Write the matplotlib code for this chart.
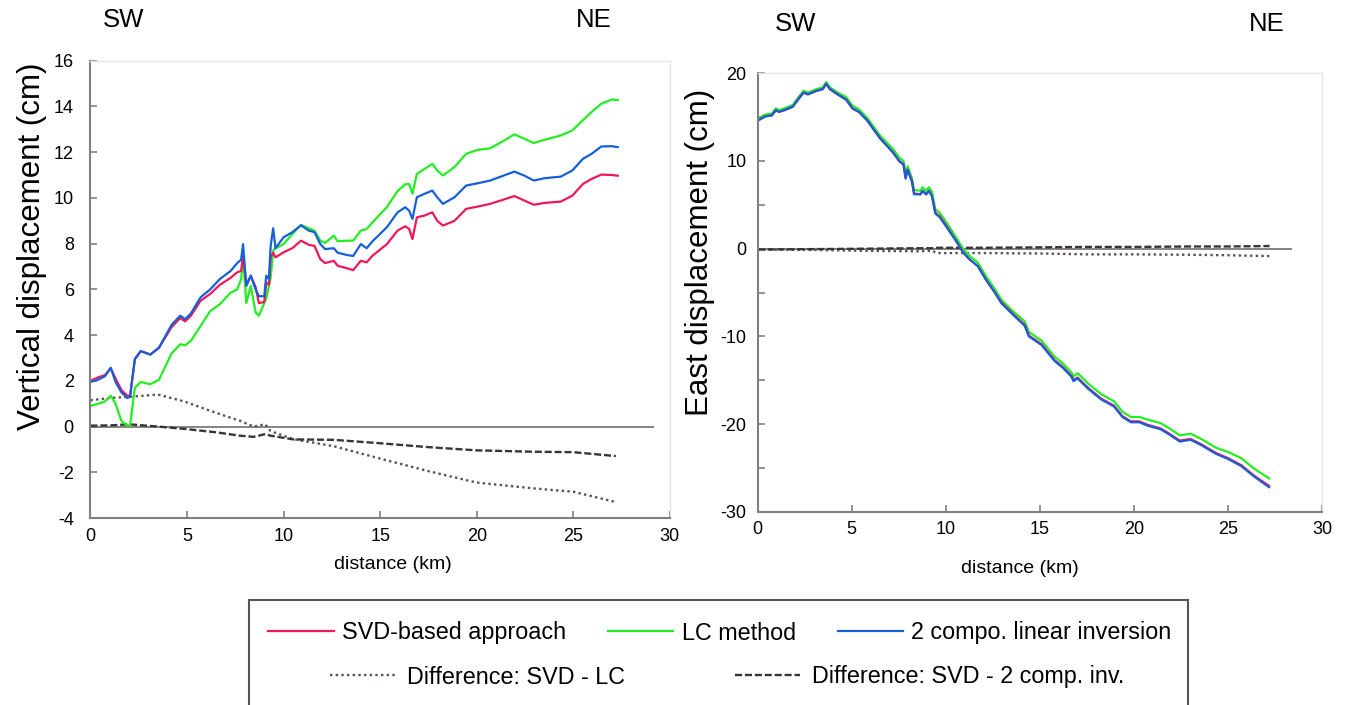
import numpy as np
import matplotlib
matplotlib.use("Agg")
import matplotlib.pyplot as plt
from matplotlib.lines import Line2D
from matplotlib.patches import Rectangle
from matplotlib.ticker import MultipleLocator

plt.rcParams['font.family'] = ['Liberation Sans', 'DejaVu Sans']
plt.rcParams['axes.unicode_minus'] = False

# --- vertical displacement profile (cm) ---
dist_vert = [0.0, 0.4, 0.75, 1.05, 1.3, 1.6, 1.9, 2.05, 2.3, 2.6, 3.1, 3.55, 4.2, 4.65,
             4.9, 5.2, 5.7, 6.2, 6.7, 7.25, 7.6, 7.8, 7.9, 8.07, 8.3, 8.55, 8.72, 9.0,
             9.1, 9.24, 9.33, 9.46, 9.58, 10.0, 10.45, 10.9, 11.3, 11.6, 11.9, 12.15,
             12.6, 12.8, 13.3, 13.6, 14.0, 14.3, 14.6, 15.35, 15.9, 16.3, 16.5, 16.67,
             16.9, 17.3, 17.7, 17.95, 18.25, 18.85, 19.45, 20.05, 20.7, 21.4, 21.95,
             22.45, 22.95, 23.5, 24.35, 24.95, 25.5, 25.95, 26.45, 27.0, 27.3]
vert_svd = [2.0, 2.15, 2.25, 2.55, 2.1, 1.6, 1.35, 1.35, 2.95, 3.3, 3.15, 3.45, 4.35, 4.75,
            4.6, 4.85, 5.5, 5.8, 6.2, 6.5, 6.75, 6.8, 7.5, 6.2, 6.6, 6.1, 5.4, 5.45,
            6.3, 6.2, 7.4, 7.6, 7.4, 7.62, 7.8, 8.13, 7.95, 7.9, 7.32, 7.15,
            7.25, 7.03, 6.92, 6.84, 7.25, 7.18, 7.47, 7.98, 8.57, 8.76, 8.64, 8.2,
            9.15, 9.23, 9.37, 9.0, 8.79, 9.0, 9.52, 9.62, 9.74, 9.93, 10.08,
            9.89, 9.7, 9.78, 9.84, 10.1, 10.61, 10.83, 11.02, 11.0, 10.97]
vert_lc = [0.9, 1.0, 1.1, 1.35, 1.0, 0.25, 0.05, 0.05, 1.7, 1.95, 1.85, 2.05, 3.2, 3.6,
           3.55, 3.75, 4.4, 5.05, 5.35, 5.85, 6.0, 6.45, 7.45, 5.4, 6.15, 5.0, 4.85, 5.4,
           5.6, 6.15, 6.5, 7.7, 7.8, 7.98, 8.42, 8.82, 8.67, 8.57, 8.13, 8.03,
           8.35, 8.1, 8.13, 8.13, 8.57, 8.64, 8.93, 9.6, 10.3, 10.6, 10.6, 10.18,
           11.05, 11.27, 11.49, 11.2, 10.98, 11.35, 11.93, 12.1, 12.17, 12.5, 12.78,
           12.59, 12.4, 12.54, 12.73, 12.95, 13.4, 13.76, 14.12, 14.3, 14.28]
vert_2comp = [1.95, 2.05, 2.2, 2.57, 1.95, 1.5, 1.25, 1.3, 2.95, 3.3, 3.15, 3.45, 4.45, 4.85,
              4.7, 4.95, 5.65, 6.0, 6.45, 6.8, 7.15, 7.3, 7.98, 6.15, 6.6, 6.0, 5.7, 5.7,
              6.6, 6.45, 7.9, 8.67, 7.8, 8.28, 8.5, 8.8, 8.57, 8.5, 7.98, 7.76,
              7.8, 7.6, 7.5, 7.46, 7.98, 7.8, 8.1, 8.72, 9.37, 9.59, 9.44, 9.08,
              10.03, 10.18, 10.32, 10.03, 9.74, 10.03, 10.54, 10.64, 10.76, 10.98, 11.15,
              10.98, 10.76, 10.86, 10.93, 11.2, 11.71, 11.93, 12.25, 12.26, 12.22]

dist_vdiff = [0.0, 1.0, 2.0, 3.5, 4.85, 6.5, 7.75, 8.45, 9.05, 9.33, 10.5, 12.6,
              15.0, 17.5, 20.0, 22.9, 25.0, 27.2]
vdiff_svd_lc = [1.15, 1.25, 1.3, 1.4, 1.1, 0.6, 0.25, 0.0, 0.1, -0.2, -0.55, -0.86,
                -1.4, -1.95, -2.45, -2.7, -2.85, -3.3]
vdiff_svd_2c = [0.04, 0.05, 0.1, 0.0, -0.1, -0.25, -0.4, -0.45, -0.33, -0.4, -0.56, -0.58,
                -0.73, -0.9, -1.04, -1.1, -1.12, -1.29]

# --- east displacement profile (cm) ---
dist_east = [0.0, 0.4, 0.75, 0.97, 1.13, 1.42, 1.87, 2.21, 2.44, 2.67, 3.12, 3.46, 3.64,
             3.84, 4.25, 4.7, 5.04, 5.38, 5.83, 6.5, 7.18, 7.52, 7.75, 7.86, 7.97, 8.2,
             8.31, 8.65, 8.76, 8.95, 9.1, 9.26, 9.44, 9.67, 10.12, 10.57, 10.91, 11.25,
             11.7, 12.15, 12.6, 12.94, 13.5, 14.19, 14.41, 15.09, 15.77, 16.22, 16.67,
             16.78, 17.0, 17.57, 18.25, 18.93, 19.38, 19.83, 20.28, 20.73, 21.41, 21.87,
             22.43, 23.0, 23.56, 24.35, 25.0, 25.7, 26.38, 27.17]
east_svd = [14.6, 15.1, 15.2, 15.8, 15.6, 15.8, 16.2, 17.2, 17.8, 17.6, 18.0, 18.2, 18.8,
            18.2, 17.6, 17.0, 16.0, 15.6, 14.6, 12.6, 11.0, 10.0, 9.6, 8.1, 9.0, 7.7,
            6.3, 6.2, 6.6, 6.2, 6.6, 6.0, 4.1, 3.7, 2.3, 0.8, -0.4, -1.2,
            -2.0, -3.6, -5.0, -6.1, -7.3, -8.7, -9.9, -10.9, -12.7, -13.5, -14.5,
            -15.0, -14.7, -15.9, -17.1, -17.9, -19.1, -19.7, -19.7, -20.1, -20.5, -21.1,
            -21.9, -21.7, -22.3, -23.3, -23.9, -24.7, -25.9, -27.05]
east_lc = [14.8, 15.3, 15.4, 16.0, 15.8, 16.0, 16.4, 17.4, 18.0, 17.8, 18.2, 18.4, 19.0,
           18.4, 17.8, 17.3, 16.3, 15.9, 14.9, 12.9, 11.4, 10.4, 10.0, 8.5, 9.4, 8.0,
           6.7, 6.6, 7.0, 6.6, 7.0, 6.5, 4.5, 4.1, 2.7, 1.2, 0.0, -0.8,
           -1.6, -3.2, -4.6, -5.8, -7.0, -8.3, -9.5, -10.5, -12.3, -13.1, -14.1,
           -14.6, -14.2, -15.4, -16.6, -17.4, -18.6, -19.2, -19.2, -19.5, -19.9, -20.5,
           -21.3, -21.1, -21.7, -22.7, -23.2, -23.9, -25.1, -26.2]
east_2comp = [14.6, 15.08, 15.2, 15.8, 15.6, 15.8, 16.2, 17.2, 17.8, 17.6, 18.0, 18.2, 18.8,
              18.2, 17.6, 17.0, 16.0, 15.6, 14.6, 12.6, 11.0, 10.0, 9.6, 8.0, 9.0, 7.6,
              6.2, 6.2, 6.6, 6.2, 6.6, 6.0, 4.0, 3.6, 2.2, 0.8, -0.4, -1.2,
              -2.0, -3.6, -5.0, -6.2, -7.4, -8.8, -10.0, -11.0, -12.8, -13.6, -14.6,
              -15.1, -14.8, -16.0, -17.2, -18.0, -19.2, -19.8, -19.8, -20.2, -20.6, -21.2,
              -22.0, -21.8, -22.4, -23.4, -24.0, -24.8, -26.0, -27.2]

dist_ediff = [0.0, 3.0, 6.0, 8.5, 9.3, 9.5, 12.0, 15.0, 17.5, 20.0, 23.0, 25.0, 27.2]
ediff_svd_lc = [-0.1, -0.15, -0.25, -0.3, -0.25, -0.5, -0.5, -0.55, -0.65, -0.65, -0.7,
                -0.75, -0.85]
ediff_svd_2c = [-0.1, -0.05, 0.0, 0.05, 0.05, 0.1, 0.1, 0.15, 0.2, 0.2, 0.25, 0.25, 0.3]

c_svd = '#f0185a'
c_lc = '#22ee22'
c_2c = '#1560d8'
c_dot = '#5a5050'
c_dash = '#363636'
dot_style = (0, (1, 1.4))
dash_style = (0, (3, 1.2))

fig = plt.figure(figsize=(13.46, 7.05), dpi=100)
ax1 = fig.add_axes([0.0672, 0.2652, 0.4305, 0.6487])
ax2 = fig.add_axes([0.5629, 0.2742, 0.4195, 0.6218])


def style_axes(ax):
    for side in ['left', 'bottom']:
        ax.spines[side].set_color('#808080')
        ax.spines[side].set_linewidth(1.5)
    for side in ['top', 'right']:
        ax.spines[side].set_color('#e4e4e4')
        ax.spines[side].set_linewidth(1.0)
    ax.tick_params(which='both', direction='in', length=5, width=1.2, color='#808080',
                   labelsize=13, top=False, right=False)
    ax.tick_params(axis='x', pad=7)


# left: vertical
ax1.hlines(0, 0, 29.2, color='#707070', lw=1.2)
ax1.plot(dist_vdiff, vdiff_svd_lc, color=c_dot, lw=1.7, ls=dot_style)
ax1.plot(dist_vdiff, vdiff_svd_2c, color=c_dash, lw=1.7, ls=dash_style)
ax1.plot(dist_vert, vert_lc, color=c_lc, lw=1.6)
ax1.plot(dist_vert, vert_svd, color=c_svd, lw=1.6)
ax1.plot(dist_vert, vert_2comp, color=c_2c, lw=1.6)
ax1.set_xlim(0, 30)
ax1.set_ylim(-4, 16)
ax1.set_xticks(np.arange(0, 31, 5))
ax1.set_yticks(np.arange(-4, 17, 2))
style_axes(ax1)
ax1.tick_params(axis='y', pad=12)
ax1.set_ylabel('Vertical displacement (cm)', fontsize=22.5)
ax1.yaxis.set_label_coords(-0.075, 0.595)
ax1.set_xlabel('distance (km)', fontsize=14)
ax1.xaxis.set_label_coords(0.522, -0.082)

# right: east
ax2.hlines(0, 0, 28.4, color='#707070', lw=1.2)
ax2.plot(dist_ediff, ediff_svd_lc, color=c_dot, lw=1.7, ls=dot_style)
ax2.plot(dist_ediff, ediff_svd_2c, color=c_dash, lw=1.7, ls=dash_style)
ax2.plot(dist_east, east_lc, color=c_lc, lw=1.6)
ax2.plot(dist_east, east_svd, color=c_svd, lw=1.6)
ax2.plot(dist_east, east_2comp, color=c_2c, lw=1.6)
ax2.set_xlim(0, 30)
ax2.set_ylim(-30, 20)
ax2.set_xticks(np.arange(0, 31, 5))
ax2.set_yticks(np.arange(-30, 21, 10))
ax2.yaxis.set_minor_locator(MultipleLocator(5))
style_axes(ax2)
ax2.tick_params(axis='y', pad=8)
ax2.set_ylabel('East displacement (cm)', fontsize=22.5)
ax2.yaxis.set_label_coords(-0.075, 0.592)
ax2.set_xlabel('distance (km)', fontsize=14)
ax2.xaxis.set_label_coords(0.465, -0.11)

# direction markers
fig.text(124 / 1346, 1 - 20 / 705, 'SW', fontsize=18.5, ha='center', va='center')
fig.text(594 / 1346, 1 - 20 / 705, 'NE', fontsize=18.5, ha='center', va='center')
fig.text(796 / 1346, 1 - 24 / 705, 'SW', fontsize=18.5, ha='center', va='center')
fig.text(1267 / 1346, 1 - 24 / 705, 'NE', fontsize=18.5, ha='center', va='center')

# legend box with two rows
fig.patches.append(Rectangle((249 / 1346, -0.02), 939 / 1346, 105 / 705 + 0.02,
                             transform=fig.transFigure, fill=False,
                             edgecolor='#555555', lw=1.5))
row1 = [Line2D([], [], color=c_svd, lw=1.6), Line2D([], [], color=c_lc, lw=1.6),
        Line2D([], [], color=c_2c, lw=1.6)]
row2 = [Line2D([], [], color=c_dot, lw=1.7, ls=dot_style),
        Line2D([], [], color=c_dash, lw=1.7, ls=dash_style)]
fig.legend(row1, ['SVD-based approach', 'LC method', '2 compo. linear inversion'],
           loc='center', bbox_to_anchor=(720 / 1346, 1 - 633 / 705), ncol=3,
           frameon=False, fontsize=16.8, handlelength=2.8, handletextpad=0.35,
           columnspacing=1.8)
fig.legend(row2, ['Difference: SVD - LC', 'Difference: SVD - 2 comp. inv.'],
           loc='center', bbox_to_anchor=(727 / 1346, 1 - 677 / 705), ncol=2,
           frameon=False, fontsize=16.8, handlelength=2.8, handletextpad=0.5,
           columnspacing=4.7)

fig.savefig('out.png', dpi=100)
